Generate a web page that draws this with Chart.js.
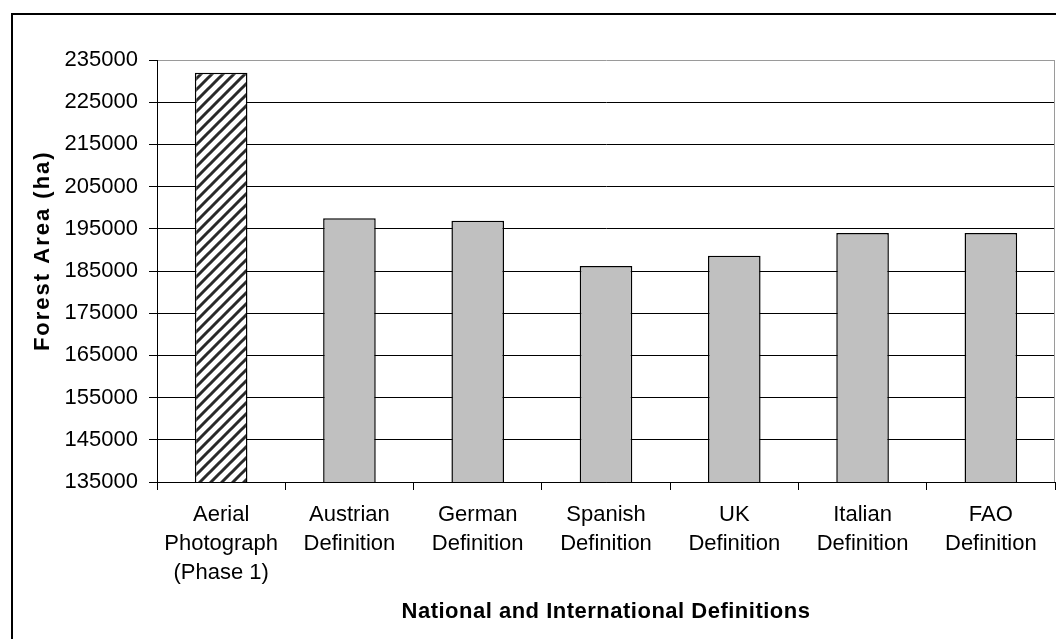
<!DOCTYPE html>
<html>
<head>
<meta charset="utf-8">
<title>Forest Area by Definition</title>
<script src="https://cdn.jsdelivr.net/npm/chart.js@4.4.1/dist/chart.umd.min.js"></script>
<style>
  html, body { margin: 0; padding: 0; background: #fff; }
  canvas { display: block; }
</style>
</head>
<body>
<canvas id="forestChart" width="1056" height="639"></canvas>
<script>
/* ── Data ─────────────────────────────────────────── */
const categories = [
    ['Aerial', 'Photograph', '(Phase 1)'],
    ['Austrian', 'Definition'],
    ['German', 'Definition'],
    ['Spanish', 'Definition'],
    ['UK', 'Definition'],
    ['Italian', 'Definition'],
    ['FAO', 'Definition']
];
const forestArea = [232000, 197500, 196900, 186200, 188600, 194000, 194000];
const yMin = 135000;
const yMax = 235000;
const yStep = 10000;

const FONT = '"Liberation Sans", Arial, Helvetica, sans-serif';

/* hatch pattern for the aerial photograph bar */
function makeHatch() {
    const c = document.createElement('canvas');
    c.width = 11; c.height = 11;
    const g = c.getContext('2d');
    g.fillStyle = '#fff';
    g.fillRect(0, 0, 11, 11);
    g.strokeStyle = '#2a2a2a';
    g.lineWidth = 3;
    g.beginPath();
    g.moveTo(-2, 13); g.lineTo(13, -2);
    g.moveTo(-13, 13); g.lineTo(2, -2);
    g.moveTo(9, 13); g.lineTo(24, -2);
    g.stroke();
    return g.createPattern(c, 'repeat');
}

const ctx = document.getElementById('forestChart').getContext('2d');
const hatch = makeHatch();
const barColors = forestArea.map((v, i) => i === 0 ? hatch : '#c0c0c0');

/* wrap a scale's title drawing with its own letter spacing */
function spacedTitle(scale, spacing) {
    if (!scale || scale._spaced) return;
    const orig = scale.drawTitle.bind(scale);
    scale.drawTitle = function () {
        const c = this.ctx;
        const old = c.letterSpacing;
        c.letterSpacing = spacing;
        orig();
        c.letterSpacing = old;
    };
    scale._spaced = true;
}

/* Excel-like look: spaced titles, outer frame, plot border */
const excelLook = {
    id: 'excelLook',
    afterUpdate(chart) {
        spacedTitle(chart.scales.x, '0.5px');
        spacedTitle(chart.scales.y, '2px');
    },
    beforeDraw(chart) {
        const c = chart.ctx;
        c.save();
        c.fillStyle = '#fff';
        c.fillRect(0, 0, chart.width, chart.height);
        c.strokeStyle = '#000';
        c.lineWidth = 2;
        c.strokeRect(12, 14, chart.width + 20, chart.height + 20);
        c.restore();
    },
    afterDraw(chart) {
        const a = chart.chartArea;
        const c = chart.ctx;
        c.save();
        c.strokeStyle = '#9a9a9a';
        c.lineWidth = 1;
        c.beginPath();
        c.moveTo(a.right - 0.5, a.top);
        c.lineTo(a.right - 0.5, a.bottom);
        c.stroke();
        c.restore();
    }
};

new Chart(ctx, {
    type: 'bar',
    data: {
        labels: categories,
        datasets: [{
            label: 'Forest Area (ha)',
            data: forestArea,
            backgroundColor: barColors,
            borderColor: '#000',
            borderWidth: 1.5,
            barPercentage: 0.41,
            categoryPercentage: 1
        }]
    },
    options: {
        responsive: false,
        animation: false,
        layout: { padding: { left: 0, top: 60, right: 1, bottom: 0 } },
        plugins: {
            legend: { display: false },
            tooltip: { enabled: false }
        },
        scales: {
            x: {
                afterFit: s => { s.height = 157; },
                border: { color: '#000', width: 1 },
                grid: {
                    drawOnChartArea: false,
                    drawTicks: true,
                    tickLength: 8,
                    color: '#000'
                },
                ticks: {
                    color: '#000',
                    padding: 10,
                    maxRotation: 0,
                    autoSkip: false,
                    font: { family: FONT, size: 22, lineHeight: 1.32 }
                },
                title: {
                    display: true,
                    text: 'National and International Definitions',
                    color: '#000',
                    padding: { top: 0, bottom: 14 },
                    font: { family: FONT, size: 22, weight: 'bold', lineHeight: 1.2 }
                }
            },
            y: {
                min: yMin,
                max: yMax,
                afterFit: s => { s.width = 157; },
                border: { color: '#000', width: 1 },
                grid: {
                    color: c => c.tick && c.tick.value === yMax ? '#9a9a9a' : '#000',
                    tickColor: '#000',
                    tickLength: 8,
                    lineWidth: 1
                },
                ticks: {
                    stepSize: yStep,
                    color: '#000',
                    padding: 11,
                    font: { family: FONT, size: 22 },
                    callback: v => String(v)
                },
                title: {
                    display: true,
                    text: '     Forest Area (ha)',
                    color: '#000',
                    padding: { top: 30, bottom: 0 },
                    font: { family: FONT, size: 22, weight: 'bold', lineHeight: 1.2 }
                }
            }
        }
    },
    plugins: [excelLook]
});
</script>
</body>
</html>
